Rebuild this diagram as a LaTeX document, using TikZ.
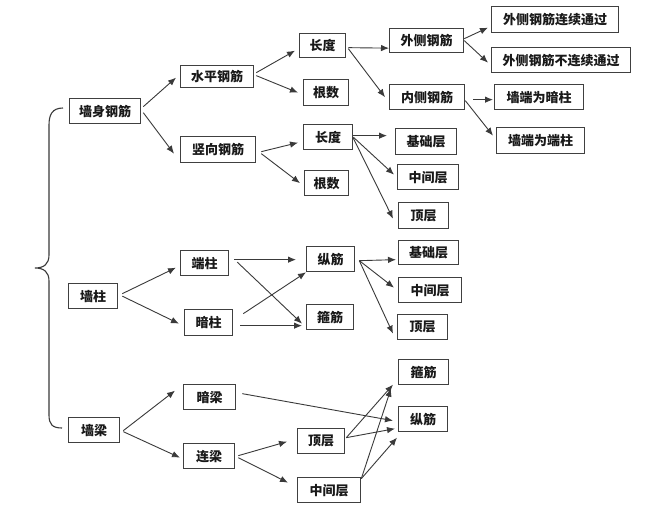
\documentclass[tikz,border=0pt]{standalone}
\usepackage{fontspec}
\newfontfamily\cjk{Noto Sans CJK SC}
\usetikzlibrary{arrows.meta}
\definecolor{linec}{HTML}{3A3A3A}
\definecolor{boxc}{HTML}{404040}
\tikzset{
  box/.style={draw=boxc, line width=1.3pt, fill=white, inner sep=0pt, anchor=north west,
    font=\cjk\bfseries\fontsize{13}{13}\selectfont, text=black!90},
  arr/.style={draw=linec, line width=0.9pt, -{Latex[length=8pt,width=6.5pt]}},
  bracec/.style={draw=linec, line width=1.1pt}
}
\newcommand{\bx}[6]{\node[box, minimum width=#4pt, minimum height=#5pt] (#1) at (#2,#3) {#6};}
\begin{document}
\begin{tikzpicture}[x=1pt,y=-1pt]
\useasboundingbox[fill=white] (0,0) rectangle (645,512);
% column 1
\bx{qsgj}{69}{98}{71}{25}{墙身钢筋}
\bx{qz}{68}{283}{49}{25}{墙柱}
\bx{ql}{68}{417}{51}{25}{墙梁}
% column 2
\bx{spgj}{180}{65}{73}{22}{水平钢筋}
\bx{sxgj}{180}{136}{75}{26}{竖向钢筋}
\bx{dz2}{180}{250}{48}{25}{端柱}
\bx{az2}{184}{309}{48}{26}{暗柱}
\bx{al}{183}{384}{52}{25}{暗梁}
\bx{ll}{183}{443}{51}{25}{连梁}
% column 3
\bx{cd1}{299}{33}{46}{24}{长度}
\bx{gs1}{303}{79}{45}{26}{根数}
\bx{cd2}{303}{124}{49}{25}{长度}
\bx{gs2}{304}{170}{44}{25}{根数}
\bx{zj}{306}{246}{48}{25}{纵筋}
\bx{gj}{306}{304}{47}{25}{箍筋}
\bx{dc3}{297}{428}{47}{25}{顶层}
\bx{zj3}{297}{477}{63}{25}{中间层}
% column 4
\bx{wcgj}{389}{28}{74}{24}{外侧钢筋}
\bx{ncgj}{389}{84}{75}{25}{内侧钢筋}
\bx{jc1}{395}{128}{61}{26}{基础层}
\bx{zj1}{397}{164}{61}{25}{中间层}
\bx{dc1}{398}{202}{50}{26}{顶层}
\bx{jc2}{398}{240}{60}{24}{基础层}
\bx{zj2}{398}{277}{63}{25}{中间层}
\bx{dc2}{397}{314}{50}{25}{顶层}
\bx{gj3}{398}{359}{50}{25}{箍筋}
\bx{zj4}{398}{406}{49}{25}{纵筋}
% column 5
\bx{lx}{491}{6}{127}{26}{外侧钢筋连续通过}
\bx{blx}{491}{47}{139}{25}{外侧钢筋不连续通过}
\bx{az}{494}{84}{89}{25}{墙端为暗柱}
\bx{dz}{496}{127}{88}{26}{墙端为端柱}
% brace
\draw[bracec] (63,108) .. controls (52,108) and (49,115) .. (49,125) -- (49,255)
  .. controls (49,264) and (44,268) .. (35,268)
  .. controls (44,268) and (49,272) .. (49,281) -- (49,415)
  .. controls (49,424) and (52,428) .. (62,428);
% connectors top
\draw[arr] ([shift={(2,-4.5)}]qsgj.east) -- ([shift={(-4,1)}]spgj.west);
\draw[arr] ([shift={(2,1.5)}]qsgj.east) -- ([shift={(-6,4)}]sxgj.west);
\draw[arr] ([shift={(2,-4)}]spgj.east) -- ([shift={(-4,5)}]cd1.west);
\draw[arr] ([shift={(2,-1)}]spgj.east) -- ([shift={(-5,0)}]gs1.west);
\draw[arr] ([shift={(5,2)}]sxgj.east) -- ([shift={(-5,5.5)}]cd2.west);
\draw[arr] ([shift={(5,4)}]sxgj.east) -- ([shift={(-4,0)}]gs2.west);
\draw[arr] ([shift={(2,2)}]cd1.east) -- ([shift={(0,7.5)}]wcgj.west);
\draw[arr] ([shift={(2,3)}]cd1.east) -- ([shift={(-4,0)}]ncgj.west);
\draw[arr] ([shift={(0,-2)}]wcgj.east) -- ([shift={(-3,8)}]lx.west);
\draw[arr] ([shift={(0,0)}]wcgj.east) -- ([shift={(-3,2.5)}]blx.west);
\draw[arr] ([shift={(8,2.5)}]ncgj.east) -- ([shift={(-1,2.5)}]az.west);
\draw[arr] ([shift={(0,3.5)}]ncgj.east) -- ([shift={(-3,-5)}]dz.west);
\draw[arr] ([shift={(0,-1.5)}]cd2.east) -- ([shift={(-8,-6)}]jc1.west);
\draw[arr] ([shift={(0,0)}]cd2.east) -- ([shift={(-3,-2.5)}]zj1.west);
\draw[arr] ([shift={(0,1)}]cd2.east) -- ([shift={(-5,3)}]dc1.west);
% connectors middle
\draw[arr] ([shift={(4,-2.5)}]qz.east) -- ([shift={(-4,4.5)}]dz2.west);
\draw[arr] ([shift={(4,0)}]qz.east) -- ([shift={(-5,1)}]az2.west);
\draw[arr] ([shift={(5,-3.5)}]dz2.east) -- ([shift={(-10,0.5)}]zj.west);
\draw[arr] ([shift={(8,-1)}]dz2.east) -- ([shift={(-4,6.5)}]gj.west);
\draw[arr] ([shift={(10,-9)}]az2.east) -- ([shift={(0,0)}]zj.south west);
\draw[arr] ([shift={(7,3)}]az2.east) -- ([shift={(-4,8.5)}]gj.west);
\draw[arr] ([shift={(4,1.5)}]zj.east) -- ([shift={(-2,7)}]jc2.west);
\draw[arr] ([shift={(4,1.5)}]zj.east) -- ([shift={(-4,-2.5)}]zj2.west);
\draw[arr] ([shift={(4,1.5)}]zj.east) -- ([shift={(-4,6.5)}]dc2.west);
% connectors bottom
\draw[arr] ([shift={(3,0.5)}]ql.east) -- ([shift={(-8,-6.5)}]al.west);
\draw[arr] ([shift={(3,1.5)}]ql.east) -- ([shift={(-3,1.5)}]ll.west);
\draw[arr] ([shift={(3,-0.5)}]ll.east) -- ([shift={(-10,0.5)}]dc3.west);
\draw[arr] ([shift={(3,1.5)}]ll.east) -- ([shift={(-9,-7.5)}]zj3.west);
\draw[arr] ([shift={(6,-3.5)}]al.east) -- ([shift={(-5,1.5)}]zj4.west);
\draw[arr] ([shift={(1,-3.5)}]dc3.east) -- ([shift={(-5,12.5)}]gj3.west);
\draw[arr] ([shift={(1,-3.5)}]dc3.east) -- ([shift={(-3,9.5)}]zj4.west);
\draw[arr] ([shift={(0,-11.5)}]zj3.east) -- ([shift={(-7,16.5)}]gj3.west);
\draw[arr] ([shift={(0,-11.5)}]zj3.east) -- ([shift={(-1,18.5)}]zj4.west);
\end{tikzpicture}
\end{document}
